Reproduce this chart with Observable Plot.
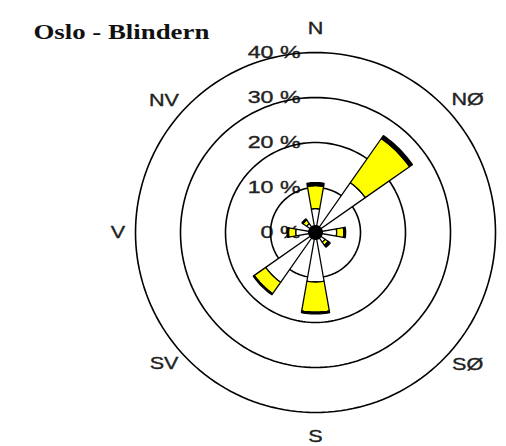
<!DOCTYPE html>
<html><head><meta charset="utf-8">
<script src="https://cdn.jsdelivr.net/npm/d3@7"></script>
<script src="https://cdn.jsdelivr.net/npm/@observablehq/plot@0.6"></script>
<style>body{margin:0;background:#fff} svg{display:block}</style>
</head><body><div id="chart"></div>
<script>
// ---- data ----
const title = "Oslo - Blindern";
const directions = ["N", "NØ", "Ø", "SØ", "S", "SV", "V", "NV"];
const directionAngles = [0, 45, 90, 135, 180, 225, 270, 315];
// share of observations (%) per speed class, stacked outward
const weakShare   = [5.3, 13.5, 4.7, 2.6, 11.0, 13.5, 4.4, 2.4];   // white
const mediumShare = [5.1, 12.0, 1.6, 0.8, 6.7, 3.1, 1.6, 1.0];     // yellow
const strongShare = [0.7, 0.8, 0.4, 0.6, 0.4, 0.3, 0.3, 0.3];      // black
const ringTicks = [10, 20, 30, 40];
const ringLabelTicks = [0, 10, 20, 30, 40];
const compassNames = ["N", "NØ", "SØ", "S", "SV", "V", "NV"];
const compassAngles = [0, 49, 131, 180, 229, 270, 311];      // label placement angles
const compassRadius = [45.2, 44.8, 44.8, 45.5, 44.6, 43.9, 44.6]; // label placement radius (%)

// ---- layout ----
const W = 506, H = 446, cx = 315, cy = 232, k = 4.5; // px per %
const halfWidth = 10;  // degrees, half sector width
const rad = d => d * Math.PI / 180;

// wedge polygons from data
const classes = [{name: "weak", fill: "white"}, {name: "medium", fill: "#ffff00"}, {name: "strong", fill: "black"}];
const wedgePts = {weak: [], medium: [], strong: []};
directions.forEach((d, i) => {
  const bounds = [0, weakShare[i], weakShare[i] + mediumShare[i], weakShare[i] + mediumShare[i] + strongShare[i]];
  classes.forEach((c, j) => {
    const r0 = bounds[j], r1 = bounds[j + 1], id = d + "-" + c.name, n = 12;
    const pts = [];
    for (let s = 0; s <= n; s++) {
      const a = rad(directionAngles[i] - halfWidth + 2 * halfWidth * s / n);
      pts.push({id, x: r1 * Math.sin(a), y: r1 * Math.cos(a)});
    }
    for (let s = n; s >= 0; s--) {
      const a = rad(directionAngles[i] - halfWidth + 2 * halfWidth * s / n);
      pts.push({id, x: r0 * Math.sin(a), y: r0 * Math.cos(a)});
    }
    wedgePts[c.name].push(...pts);
  });
});

const ringPts = [];
ringTicks.forEach(r => {
  for (let s = 0; s < 180; s++) {
    const a = rad(s * 2);
    ringPts.push({r, x: r * Math.sin(a), y: r * Math.cos(a)});
  }
});

const compass = compassNames.map((name, i) => ({
  name,
  x: compassRadius[i] * Math.sin(rad(compassAngles[i])),
  y: compassRadius[i] * Math.cos(rad(compassAngles[i]))
}));

const textStyle = {fontFamily: "Liberation Sans, Arial, sans-serif", fontSize: 16, fill: "#222", stroke: "#222", strokeWidth: 0.35};

const svg = Plot.plot({
  width: W, height: H,
  marginTop: 0, marginRight: 0, marginBottom: 0, marginLeft: 0,
  x: {domain: [-cx / k, (W - cx) / k], axis: null},
  y: {domain: [-(H - cy) / k, cy / k], axis: null},
  style: {background: "white"},
  marks: [
    Plot.text(ringLabelTicks, {x: () => 0, y: d => d, text: d => d + " %", dx: -15,
      textAnchor: "end", lineAnchor: "middle", ...textStyle}),
    Plot.line(ringPts, {x: "x", y: "y", z: "r", curve: "linear-closed", stroke: "black", strokeWidth: 1.6}),
    ...classes.map(c => Plot.line(wedgePts[c.name], {x: "x", y: "y", z: "id", curve: "linear-closed",
      fill: c.fill, stroke: "black", strokeWidth: 1.3, strokeLinejoin: "miter"})),
    Plot.dot([{x: 0, y: 0}], {x: "x", y: "y", r: 7.5, fill: "black", stroke: "none"}),
    Plot.text(compass, {x: "x", y: "y", text: "name", textAnchor: "middle", lineAnchor: "middle", ...textStyle}),
    Plot.text([title], {frameAnchor: "top-left", dx: 33, dy: 38, textAnchor: "start", lineAnchor: "bottom",
      fontSize: 22, fontWeight: "bold", fontFamily: "Liberation Serif, Times New Roman, serif", fill: "#111"})
  ]
});

// widen glyphs horizontally like the reference lettering
svg.querySelectorAll("text").forEach(t => {
  const txt = t.textContent;
  const sx = txt === title ? 1.22 : (txt.includes("%") ? 1.45 : 1.35);
  const tr = t.getAttribute("transform") || "";
  t.setAttribute("transform", `${tr} scale(${sx},1)`);
  const xa = t.getAttribute("x");
  if (xa !== null && isFinite(+xa)) t.setAttribute("x", +xa / sx);
});

document.getElementById("chart").appendChild(svg);
</script>
</body></html>
